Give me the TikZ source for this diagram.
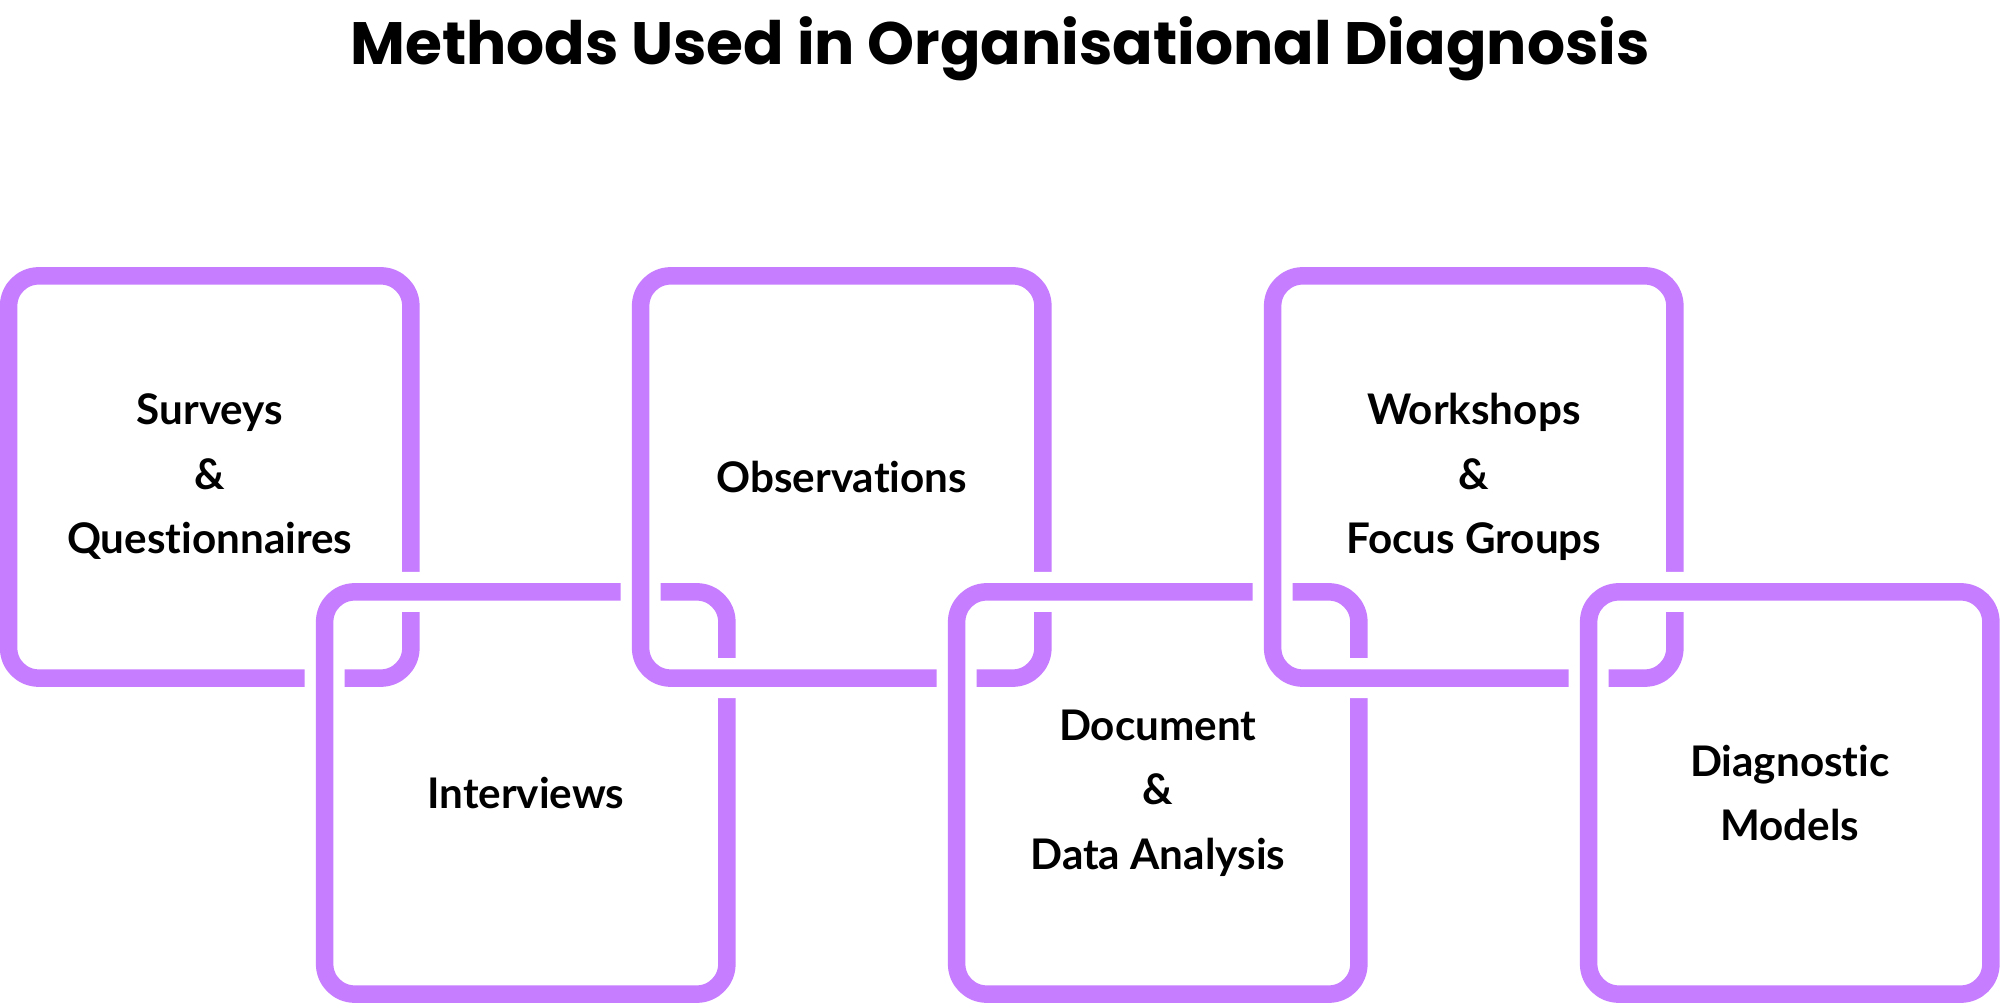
\documentclass[tikz,border=0pt]{standalone}
\usepackage{fontspec}
\setmainfont{Lato}[Ligatures=NoCommon]
\newfontfamily\titlefont{Poppins}
\definecolor{linkviolet}{HTML}{C77DFF}
\begin{document}
\begin{tikzpicture}[x=0.01cm, y=-0.01cm, line join=round,
	link/.style={rectangle, draw=linkviolet, line width=0.175cm, rounded corners=0.3cm,
		minimum width=4.02cm, minimum height=4.02cm, inner sep=0pt, align=center,
		font=\fontsize{12}{18.35}\selectfont\bfseries,
		preaction={draw=white, line width=0.4cm}}]
		\useasboundingbox (0,0) rectangle (2000,1004);
		%	\draw[color=gray!50,dashed] (0,0) grid[step=100] (2000,1004);
		\node (title) at (1000,65) [anchor=base, font=\titlefont\fontsize{17}{20}\selectfont\bfseries]{Methods Used in Organisational Diagnosis};
		\node[link] (surveys) at (209.75,477) {Surveys\\\&\\Questionnaires};
		\node[link] (interviews) at (525.75,793) {Interviews};
		\node[link] (observations) at (841.75,477) {Observations};
		\node[link] (documents) at (1157.75,793) {Document\\\&\\Data Analysis};
		\node[link] (workshops) at (1473.75,477) {Workshops\\\&\\Focus Groups};
		\node[link] (models) at (1789.75,793) {Diagnostic\\Models};
\end{tikzpicture}
\end{document}
